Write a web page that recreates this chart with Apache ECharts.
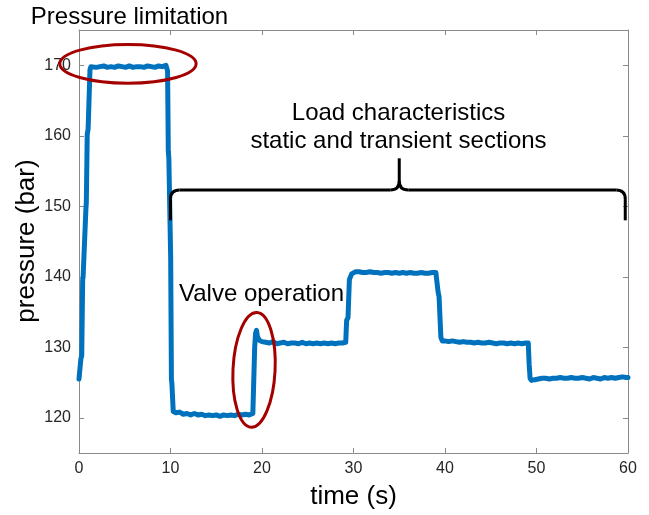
<!DOCTYPE html>
<html>
<head>
<meta charset="utf-8">
<title>Pressure over time</title>
<script src="https://cdn.jsdelivr.net/npm/echarts@6/dist/echarts.min.js"></script>
<style>
  html, body { margin: 0; padding: 0; background: #ffffff; }
  #chart { width: 649px; height: 515px; }
</style>
</head>
<body>
<div id="chart"></div>
<script>
// Measured pressure trace: time (s) and pressure (bar)
const time = [
  0, 0.15, 0.2, 0.3, 0.4, 0.45, 0.75, 0.8, 0.9, 1.0, 1.2, 1.3,
  1.5, 1.9, 2.3, 2.7, 3.1, 3.5, 3.9, 4.3, 4.7, 5.1, 5.5, 5.9, 6.3, 6.7, 7.1, 7.5, 7.9, 8.3, 8.7, 9.1, 9.5,
  9.62, 9.68, 9.76, 9.82, 10.02, 10.1, 10.15, 10.3,
  10.6, 11.0, 11.4, 11.8, 12.2, 12.6, 13.0, 13.4, 13.8, 14.2, 14.6, 15.0, 15.4, 15.8, 16.2, 16.6, 17.0, 17.4, 17.8, 18.2, 18.6, 19.0,
  19.1, 19.2, 19.3, 19.4, 19.5, 19.7, 20.0, 20.4, 20.8, 21.2, 21.6, 22.0, 22.4, 22.8, 23.2, 23.6, 24.0, 24.4, 24.8, 25.2, 25.6, 26.0, 26.4, 26.8, 27.2, 27.6, 28.0, 28.4, 28.8, 29.15,
  29.25, 29.4, 29.55, 29.8, 30.2,
  30.6, 31.0, 31.4, 31.8, 32.2, 32.6, 33.0, 33.4, 33.8, 34.2, 34.6, 35.0, 35.4, 35.8, 36.2, 36.6, 37.0, 37.4, 37.8, 38.2, 38.6, 39.0, 39.15,
  39.25, 39.35, 39.55, 39.7,
  40.0, 40.4, 40.8, 41.2, 41.6, 42.0, 42.4, 42.8, 43.2, 43.6, 44.0, 44.4, 44.8, 45.2, 45.6, 46.0, 46.4, 46.8, 47.2, 47.6, 48.0, 48.4, 48.8, 49.1,
  49.2, 49.3, 49.45, 49.8,
  50.2, 50.6, 51.0, 51.4, 51.8, 52.2, 52.6, 53.0, 53.4, 53.8, 54.2, 54.6, 55.0, 55.4, 55.8, 56.2, 56.6, 57.0, 57.4, 57.8, 58.2, 58.6, 59.0, 59.4, 59.8, 60
];
const pressure = [
  125.5, 125.7, 128.3, 128.8, 139.5, 140.0, 149.5, 150.5, 160.2, 161.0, 169.4, 169.8,
  169.9, 169.7, 169.8, 169.9, 169.7, 169.8, 169.7, 169.9, 169.8, 169.7, 169.9, 169.7, 169.8, 169.8, 169.7, 169.9, 169.8, 169.7, 169.9, 169.8, 170.0,
  169.9, 169.2, 157.8, 156.8, 142.6, 125.4, 124.9, 120.9,
  120.7, 120.8, 120.5, 120.6, 120.4, 120.6, 120.4, 120.5, 120.3, 120.4, 120.3, 120.4, 120.2, 120.4, 120.3, 120.4, 120.3, 120.5, 120.4, 120.5, 120.4, 120.6,
  120.7, 130.0, 132.0, 132.4, 131.5, 131.0, 130.8, 130.7, 130.6, 130.8, 130.5, 130.6, 130.7, 130.5, 130.6, 130.6, 130.5, 130.7, 130.5, 130.6, 130.5, 130.6, 130.5, 130.6, 130.5, 130.6, 130.5, 130.6, 130.6, 130.7,
  133.8, 134.2, 139.6, 140.4, 140.7,
  140.7, 140.6, 140.6, 140.7, 140.6, 140.6, 140.5, 140.6, 140.6, 140.5, 140.6, 140.5, 140.6, 140.5, 140.6, 140.5, 140.5, 140.6, 140.5, 140.5, 140.6, 140.6, 140.7,
  137.8, 137.2, 131.4, 130.9,
  130.9, 130.8, 130.9, 130.8, 130.7, 130.8, 130.7, 130.7, 130.6, 130.7, 130.6, 130.6, 130.7, 130.6, 130.5, 130.6, 130.6, 130.5, 130.6, 130.5, 130.6, 130.5, 130.6, 130.6,
  127.5, 125.6, 125.3, 125.4,
  125.5, 125.6, 125.6, 125.5, 125.6, 125.6, 125.7, 125.6, 125.6, 125.7, 125.6, 125.6, 125.7, 125.6, 125.5, 125.7, 125.6, 125.5, 125.7, 125.6, 125.7, 125.6, 125.7, 125.8, 125.7, 125.7
];

// Axis ticks
const xTicks = [0, 10, 20, 30, 40, 50, 60];
const yTicks = [120, 130, 140, 150, 160, 170];

const FONT = 'Liberation Sans, Arial, Helvetica, sans-serif';
const AXIS_GRAY = '#8a8a8a';
const LABEL_GRAY = '#262626';
const MARK_RED = '#a50000';

const chart = echarts.init(document.getElementById('chart'), null, { renderer: 'canvas' });

const series = time.map((t, i) => [t, pressure[i]]);

function boxAxis(base, ticks, withLabels) {
  return Object.assign({
    type: 'value',
    splitLine: { show: false },
    axisLine: { show: true, onZero: false, lineStyle: { color: AXIS_GRAY, width: 1 } },
    axisTick: { show: true, inside: true, length: 5, customValues: ticks,
      lineStyle: { color: AXIS_GRAY, width: 1 } },
    axisLabel: withLabels
      ? { color: LABEL_GRAY, fontSize: 16, fontFamily: FONT, margin: 8, customValues: ticks }
      : { show: false }
  }, base);
}

chart.setOption({
  animation: false,
  backgroundColor: '#ffffff',
  grid: { left: 79, right: 21, top: 30, bottom: 62 },
  xAxis: [
    boxAxis({ position: 'bottom', min: 0, max: 60, interval: 10 }, xTicks, true),
    boxAxis({ position: 'top', min: 0, max: 60, interval: 10 }, xTicks, false)
  ],
  yAxis: [
    boxAxis({ position: 'left', min: 115, max: 175 }, yTicks, true),
    boxAxis({ position: 'right', min: 115, max: 175 }, yTicks, false)
  ],
  series: [{
    type: 'line',
    xAxisIndex: 0,
    yAxisIndex: 0,
    data: series,
    showSymbol: false,
    symbol: 'none',
    clip: true,
    lineStyle: { color: '#0072bd', width: 5, cap: 'round', join: 'round' },
    z: 2
  }]
});

// Annotation layer, anchored in data space
const px = (t, p) => chart.convertToPixel({ gridIndex: 0 }, [t, p]);

function ellipseAt(t, p, dt, dp, rotation) {
  const c = px(t, p);
  const e = px(t + dt, p + dp);
  return {
    type: 'ellipse',
    x: c[0], y: c[1], rotation: rotation || 0,
    shape: { cx: 0, cy: 0, rx: Math.abs(e[0] - c[0]), ry: Math.abs(e[1] - c[1]) },
    style: { fill: 'none', stroke: MARK_RED, lineWidth: 3 },
    z: 10
  };
}

// Curly brace spanning the load section, built from straight and curved strokes
function braceParts(t0, t1, tMid, pLine, pEnd, pTip) {
  const x0 = px(t0, pEnd)[0], x1 = px(t1, pEnd)[0];
  const yEnd = px(t0, pEnd)[1];
  const yl = px(t0, pLine)[1];
  const m = px(tMid, pTip);
  const xm = m[0], yTip = m[1];
  const r = 9;
  const stroke = { stroke: '#000000', lineWidth: 3, lineCap: 'butt', fill: 'none' };
  const seg = (a, b, c, d) => ({ type: 'line', z: 11, shape: { x1: a, y1: b, x2: c, y2: d }, style: stroke });
  const curve = (a, b, cx, cy, c, d) => ({
    type: 'bezierCurve', z: 11,
    shape: { x1: a, y1: b, x2: c, y2: d, cpx1: cx, cpy1: cy }, style: stroke
  });
  return [
    seg(x0, yEnd, x0, yl + r),
    curve(x0, yl + r, x0, yl, x0 + r, yl),
    seg(x0 + r, yl, xm - r, yl),
    curve(xm - r, yl, xm, yl, xm, yl - r),
    curve(xm + r, yl, xm, yl, xm, yl - r),
    seg(xm, yl - r, xm, yTip),
    seg(xm + r, yl, x1 - r, yl),
    curve(x1 - r, yl, x1, yl, x1, yl + r),
    seg(x1, yl + r, x1, yEnd)
  ];
}

function label(text, x, y, size, align) {
  return {
    type: 'text', x: x, y: y, z: 12,
    style: {
      text: text, fill: '#000000', fontSize: size, fontFamily: FONT,
      align: align || 'center', verticalAlign: 'middle'
    }
  };
}

chart.setOption({
  graphic: [
    ellipseAt(5.35, 170.2, 7.45, 2.75, 0),
    ellipseAt(19.13, 126.8, 2.3, 8.15, -0.05),
    ...braceParts(10.0, 59.7, 35.0, 152.3, 148.0, 156.8),
    label('Pressure limitation', 129.5, 17, 24),
    label('Load characteristics', 398.5, 113, 24),
    label('static and transient sections', 398.5, 141.5, 24),
    label('Valve operation', 179, 294.5, 24, 'left'),
    label('time (s)', 353.5, 497, 26),
    {
      type: 'text', x: 27, y: 241, rotation: Math.PI / 2, z: 12,
      style: {
        text: 'pressure (bar)', fill: '#000000', fontSize: 26, fontFamily: FONT,
        align: 'center', verticalAlign: 'middle'
      }
    }
  ]
});
</script>
</body>
</html>
